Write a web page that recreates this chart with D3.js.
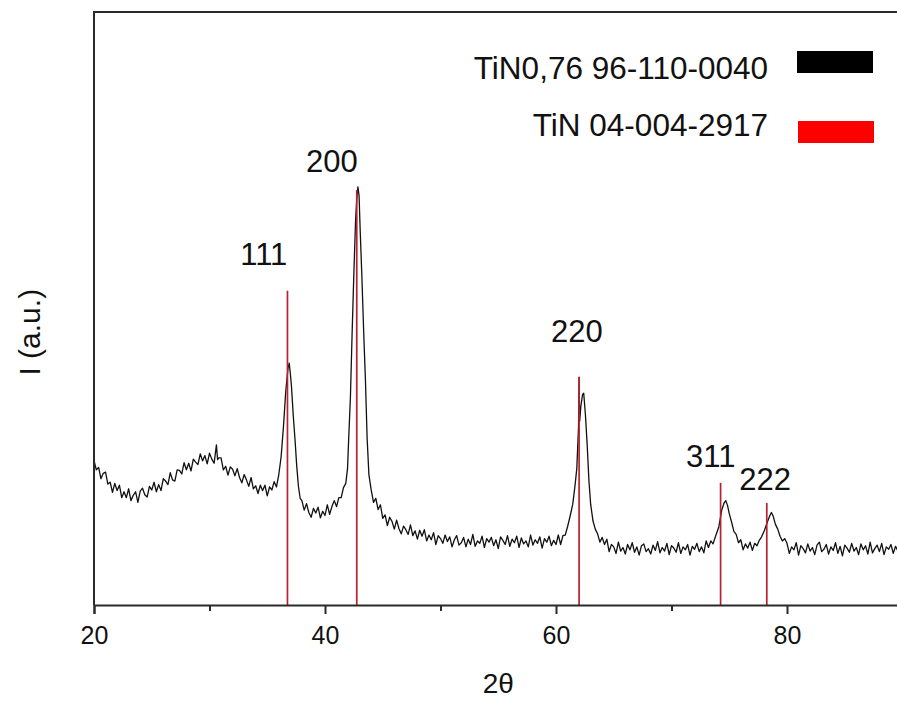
<!DOCTYPE html>
<html>
<head>
<meta charset="utf-8">
<script src="https://cdn.jsdelivr.net/npm/d3@7"></script>
<style>
body{margin:0;background:#fff}
text{font-family:"Liberation Sans",Arial,sans-serif;fill:#111}
</style>
</head>
<body>
<div id="chart"></div>
<script>
var w = 897
var h = 702

// measured scan, [2theta, counts a.u.]
var scan = [
 [20.0,24.4],[20.2,22.8],[20.4,23.2],[20.6,21.3],[20.8,22.2],[21.0,22.4],[21.2,20.4],[21.4,20.7],
 [21.6,19.0],[21.8,20.5],[22.0,19.3],[22.2,20.2],[22.4,18.1],[22.6,19.1],[22.8,18.1],[23.0,19.6],
 [23.2,17.6],[23.4,18.5],[23.6,19.1],[23.8,17.3],[24.0,19.2],[24.2,19.7],[24.4,18.6],[24.6,18.2],
 [24.8,20.0],[25.0,19.4],[25.2,20.7],[25.4,19.1],[25.6,20.3],[25.8,19.3],[26.0,21.3],[26.2,20.9],
 [26.4,20.3],[26.6,22.3],[26.8,21.1],[27.0,20.9],[27.2,22.8],[27.4,22.7],[27.6,22.1],[27.8,24.0],
 [28.0,22.8],[28.2,23.9],[28.4,22.6],[28.6,24.6],[28.8,24.1],[29.0,23.7],[29.2,25.5],[29.4,24.3],
 [29.6,25.2],[29.8,23.8],[30.0,25.6],[30.2,24.6],[30.4,23.9],[30.6,27.0],[30.7,24.5],[30.8,24.8],
 [31.0,24.8],[31.2,22.8],[31.4,23.4],[31.6,21.9],[31.8,23.3],[32.0,22.9],[32.2,21.8],[32.4,23.0],
 [32.6,21.5],[32.8,20.6],[33.0,22.0],[33.2,21.1],[33.4,20.0],[33.6,21.5],[33.8,19.6],[34.0,20.1],
 [34.2,18.8],[34.4,20.2],[34.6,19.3],[34.8,20.2],[35.0,18.4],[35.2,19.9],[35.4,19.4],[35.6,20.8],
 [35.8,19.9],[36.0,22.0],[36.2,25.0],[36.4,30.0],[36.6,36.0],[36.8,40.0],[36.9,40.8],[37.0,39.0],
 [37.1,36.8],[37.25,32.0],[37.4,28.0],[37.55,23.5],[37.7,20.0],[37.85,18.0],[38.0,17.6],[38.2,16.0],
 [38.4,17.1],[38.6,15.6],[38.8,14.8],[39.0,16.3],[39.2,15.5],[39.4,16.5],[39.6,14.7],[39.8,15.8],
 [40.0,15.1],[40.2,16.9],[40.4,15.3],[40.6,16.6],[40.8,17.6],[41.0,16.6],[41.2,18.1],[41.4,18.1],
 [41.6,19.8],[41.8,20.5],[41.95,23.0],[42.05,28.0],[42.2,35.0],[42.35,46.0],[42.5,56.0],[42.65,65.0],
 [42.75,68.5],[42.85,70.5],[42.95,69.0],[43.05,63.0],[43.2,55.0],[43.35,46.0],[43.5,38.0],[43.65,28.0],
 [43.8,22.0],[44.0,19.4],[44.2,17.3],[44.4,18.0],[44.6,16.1],[44.8,16.9],[45.0,14.6],[45.2,15.2],
 [45.4,13.4],[45.6,14.8],[45.8,14.1],[46.0,12.8],[46.2,14.3],[46.4,12.9],[46.6,12.0],[46.8,13.3],
 [47.0,12.7],[47.2,11.9],[47.4,13.5],[47.6,11.7],[47.8,12.5],[48.0,11.1],[48.2,12.6],[48.4,11.6],
 [48.6,12.7],[48.8,10.8],[49.0,11.8],[49.2,11.0],[49.4,12.2],[49.6,10.2],[49.8,11.7],[50.0,11.2],
 [50.2,10.4],[50.4,11.8],[50.6,10.7],[50.8,11.5],[51.0,9.8],[51.2,11.0],[51.4,11.7],[51.6,10.1],
 [51.8,10.5],[52.0,11.4],[52.2,9.8],[52.4,11.1],[52.6,10.2],[52.8,11.9],[53.0,9.9],[53.2,10.8],
 [53.4,10.4],[53.6,11.6],[53.8,9.7],[54.0,11.2],[54.2,10.6],[54.4,11.4],[54.6,10.0],[54.8,11.0],
 [55.0,9.5],[55.2,11.5],[55.4,10.9],[55.6,10.2],[55.8,11.7],[56.0,9.9],[56.2,11.1],[56.4,10.5],
 [56.6,11.6],[56.8,9.7],[57.0,11.3],[57.2,10.3],[57.4,10.8],[57.6,9.8],[57.8,11.8],[58.0,10.1],
 [58.2,11.0],[58.4,10.4],[58.6,11.5],[58.8,9.6],[59.0,11.2],[59.2,10.6],[59.4,11.6],[59.6,10.0],
 [59.8,10.9],[60.0,10.2],[60.2,11.8],[60.4,10.2],[60.6,11.7],[60.8,11.8],[61.0,13.2],[61.2,14.8],
 [61.45,17.0],[61.65,20.2],[61.8,23.0],[61.95,30.0],[62.0,38.4],[62.05,31.0],[62.15,33.5],[62.3,35.5],
 [62.4,35.7],[62.55,32.0],[62.7,27.0],[62.85,21.0],[63.0,17.0],[63.2,14.2],[63.4,12.8],[63.6,12.0],
 [63.8,10.6],[64.0,11.4],[64.2,10.2],[64.4,11.1],[64.6,9.0],[64.8,10.2],[65.0,9.8],[65.2,8.7],
 [65.4,10.6],[65.6,9.1],[65.8,9.7],[66.0,8.6],[66.2,10.2],[66.4,9.3],[66.6,10.5],[66.8,8.9],
 [67.0,9.8],[67.2,8.4],[67.4,10.0],[67.6,10.3],[67.8,9.0],[68.0,9.5],[68.2,8.6],[68.4,10.1],
 [68.6,9.2],[68.8,10.7],[69.0,8.8],[69.2,9.7],[69.4,9.1],[69.6,10.4],[69.8,8.5],[70.0,10.0],
 [70.2,9.6],[70.4,8.9],[70.6,10.5],[70.8,8.7],[71.0,9.8],[71.2,9.3],[71.4,10.2],[71.6,8.4],
 [71.8,9.9],[72.0,9.4],[72.2,10.4],[72.4,9.0],[72.6,9.8],[72.8,8.8],[73.0,10.8],[73.2,9.7],
 [73.4,10.8],[73.6,10.3],[73.8,11.5],[74.1,13.2],[74.35,16.0],[74.55,17.2],[74.7,17.6],[74.85,16.8],
 [75.0,15.4],[75.2,14.0],[75.4,12.4],[75.6,11.9],[75.8,10.5],[76.0,11.0],[76.2,9.3],[76.4,10.3],
 [76.6,9.6],[76.8,10.6],[77.0,9.2],[77.2,10.4],[77.4,10.0],[77.6,10.9],[77.8,11.5],[78.05,12.6],
 [78.3,14.0],[78.5,15.0],[78.65,15.6],[78.8,15.0],[79.0,13.6],[79.2,12.8],[79.4,11.6],[79.6,10.8],
 [79.8,11.2],[80.0,10.4],[80.2,8.7],[80.4,9.8],[80.6,9.3],[80.8,10.5],[81.0,8.4],[81.2,10.0],
 [81.4,9.5],[81.6,8.8],[81.8,10.3],[82.0,9.1],[82.2,9.7],[82.4,8.5],[82.6,10.1],[82.8,10.6],
 [83.0,9.0],[83.2,9.4],[83.4,10.2],[83.6,8.6],[83.8,9.8],[84.0,9.2],[84.2,10.5],[84.4,8.7],
 [84.6,9.9],[84.8,8.3],[85.0,10.1],[85.2,9.6],[85.4,8.9],[85.6,10.4],[85.8,9.1],[86.0,9.7],
 [86.2,8.5],[86.4,10.3],[86.6,9.3],[86.8,10.0],[87.0,8.6],[87.2,10.6],[87.4,8.8],[87.6,9.5],
 [87.8,10.1],[88.0,9.0],[88.2,10.4],[88.4,8.5],[88.6,9.8],[88.8,9.4],[89.0,10.2],[89.2,8.7],
 [89.4,9.9],[89.6,9.1],[89.8,10.5],[90.0,8.9]
]

// reference pattern TiN 04-004-2917
var hkl = ["111","200","220","311","222"]
var refAngle = [36.75, 42.75, 62.0, 74.25, 78.25]
var refHeight = [53, 70, 38.5, 20.6, 17.2]

// where the hkl labels sit (2theta, level)
var labelAngle = [34.7, 40.6, 61.8, 73.4, 78.1]
var labelLevel = [57.3, 73.0, 44.4, 23.3, 19.4]

var legendNames = ["TiN0,76 96-110-0040", "TiN 04-004-2917"]
var legendColors = ["#000000", "#ff0000"]

var majorTicks = [20, 40, 60, 80]
var minorTicks = [30, 50, 70]

var m = {left: 94, top: 12, bottom: 605}
var x = d3.scaleLinear().domain([20, 90]).range([m.left, m.left + 70 * 11.55])
var y = d3.scaleLinear().domain([0, 100]).range([m.bottom, m.top])

var svg = d3.select("#chart").append("svg").attr("width", w).attr("height", h)

svg.append("clipPath").attr("id", "clip")
  .append("rect").attr("x", m.left).attr("y", m.top)
  .attr("width", x(90) - m.left).attr("height", m.bottom - m.top)

var plot = svg.append("g").attr("clip-path", "url(#clip)")

var line = d3.line().x(function(d){return x(d[0])}).y(function(d){return y(d[1])})

plot.append("path")
  .datum(scan)
  .attr("d", line)
  .attr("fill", "none")
  .attr("stroke", "#111")
  .attr("stroke-width", 1.3)
  .attr("stroke-linejoin", "round")

plot.selectAll(".ref")
  .data(refAngle)
  .enter()
  .append("line")
  .attr("x1", function(d){return x(d)})
  .attr("x2", function(d){return x(d)})
  .attr("y1", y(0))
  .attr("y2", function(d, i){return y(refHeight[i])})
  .attr("stroke", "#b8222f")
  .attr("stroke-width", 1.7)

// frame
svg.append("line").attr("x1", m.left).attr("x2", m.left).attr("y1", m.top - 1).attr("y2", m.bottom)
  .attr("stroke", "#2a2a2a").attr("stroke-width", 2)
svg.append("line").attr("x1", m.left - 1).attr("x2", w).attr("y1", m.top).attr("y2", m.top)
  .attr("stroke", "#2a2a2a").attr("stroke-width", 2)

var xAxis = svg.append("g").attr("transform", "translate(0," + m.bottom + ")")
  .call(d3.axisBottom(x).tickValues(majorTicks).tickSize(9).tickPadding(12).tickFormat(d3.format("d")))
xAxis.select(".domain").attr("stroke", "#2a2a2a").attr("stroke-width", 2)
xAxis.selectAll(".tick line").attr("stroke", "#2a2a2a").attr("stroke-width", 2)
xAxis.selectAll(".tick text")
  .style("font-family", "'Liberation Sans', Arial, sans-serif")
  .style("font-size", "25px").attr("fill", "#111")

var xMinor = svg.append("g").attr("transform", "translate(0," + m.bottom + ")")
  .call(d3.axisBottom(x).tickValues(minorTicks).tickSize(6).tickFormat(""))
xMinor.select(".domain").remove()
xMinor.selectAll(".tick line").attr("stroke", "#2a2a2a").attr("stroke-width", 2)

svg.append("text")
  .attr("x", x(55)).attr("y", 693)
  .attr("text-anchor", "middle")
  .style("font-size", "28px")
  .text("2θ")

svg.append("text")
  .attr("transform", "translate(40," + y(46) + ") rotate(-90)")
  .attr("text-anchor", "middle")
  .style("font-size", "30px")
  .text("I (a.u.)")

svg.selectAll(".hkl")
  .data(hkl)
  .enter()
  .append("text")
  .attr("x", function(d, i){return x(labelAngle[i])})
  .attr("y", function(d, i){return y(labelLevel[i])})
  .attr("text-anchor", "middle")
  .style("font-size", "31px")
  .text(function(d){return d})

var legend = svg.selectAll(".legend")
  .data(legendNames)
  .enter()
  .append("g")
  .attr("transform", function(d, i){return "translate(0," + (i * 57) + ")"})

legend.append("text")
  .attr("x", 768).attr("y", 79)
  .attr("text-anchor", "end")
  .style("font-size", "31.5px")
  .text(function(d){return d})

legend.append("rect")
  .attr("x", function(d, i){return 797 + i})
  .attr("y", function(d, i){return 51 + i * 13})
  .attr("width", 76).attr("height", 22)
  .attr("fill", function(d, i){return legendColors[i]})
</script>
</body>
</html>
